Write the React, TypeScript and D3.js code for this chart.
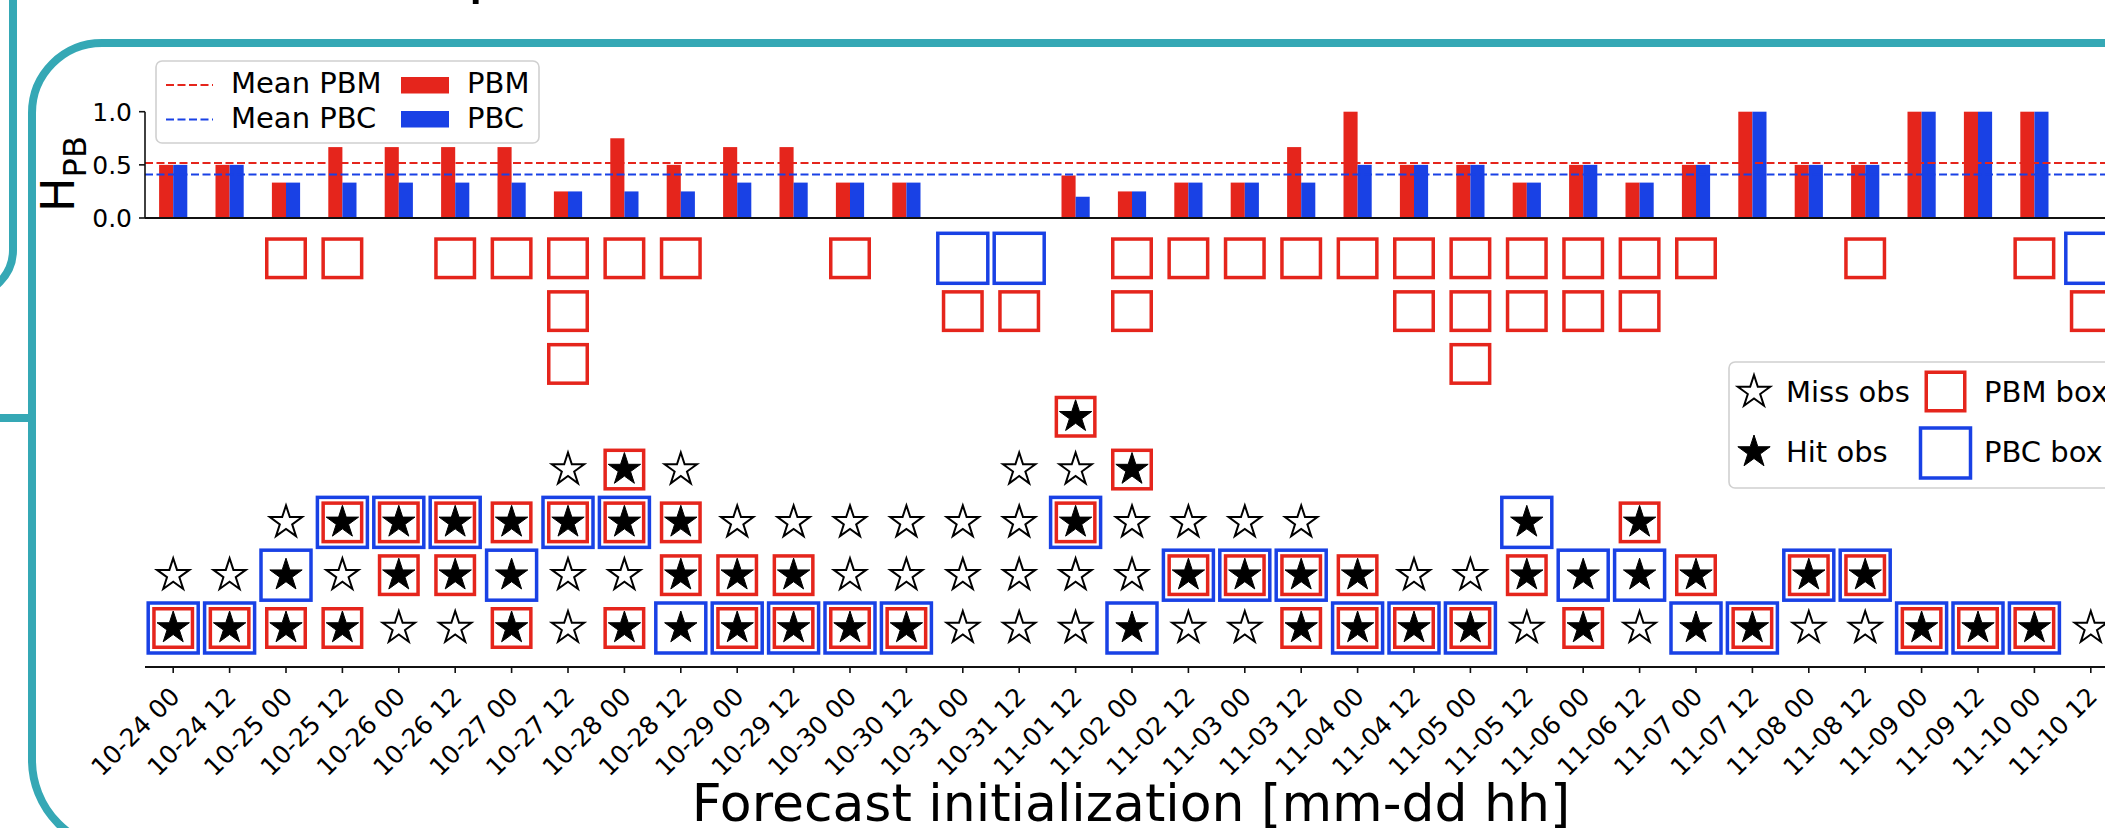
import React from "react";
import * as d3 from "d3";

// forecast initialisations (x categories)
const categories = [
  "10-24 00", "10-24 12", "10-25 00", "10-25 12", "10-26 00", "10-26 12",
  "10-27 00", "10-27 12", "10-28 00", "10-28 12", "10-29 00", "10-29 12",
  "10-30 00", "10-30 12", "10-31 00", "10-31 12", "11-01 12", "11-02 00",
  "11-02 12", "11-03 00", "11-03 12", "11-04 00", "11-04 12", "11-05 00",
  "11-05 12", "11-06 00", "11-06 12", "11-07 00", "11-07 12", "11-08 00",
  "11-08 12", "11-09 00", "11-09 12", "11-10 00", "11-10 12",
];

// H_PB per forecast
const pbmValues = [
  0.5, 0.5, 0.333, 0.667, 0.667, 0.667, 0.667, 0.25, 0.75, 0.5, 0.667, 0.667,
  0.333, 0.333, 0, 0, 0.4, 0.25, 0.333, 0.333, 0.667, 1, 0.5, 0.5,
  0.333, 0.5, 0.333, 0.5, 1, 0.5, 0.5, 1, 1, 1, 0,
];
const pbcValues = [
  0.5, 0.5, 0.333, 0.333, 0.333, 0.333, 0.333, 0.25, 0.25, 0.25, 0.333, 0.333,
  0.333, 0.333, 0, 0, 0.2, 0.25, 0.333, 0.333, 0.333, 0.5, 0.5, 0.5,
  0.333, 0.5, 0.333, 0.5, 1, 0.5, 0.5, 1, 1, 1, 0,
];

// observations, bottom row first. H = hit, M = miss, r = PBM box, b = PBC box
const obsColumns = [
  "Hrb M", "Hrb M", "Hr Hb M", "Hr M Hrb", "M Hr Hrb", "M Hr Hrb",
  "Hr Hb Hr", "M M Hrb M", "Hr M Hrb Hr", "Hb Hr Hr M", "Hrb Hr M", "Hrb Hr M",
  "Hrb M M", "Hrb M M", "M M M", "M M M M", "M M Hrb M Hr", "Hb M M Hr",
  "M Hrb M", "M Hrb M", "Hr Hrb M", "Hrb Hr", "Hrb M", "Hrb M",
  "M Hr Hb", "Hr Hb", "M Hb Hr", "Hb Hr", "Hrb", "M Hrb",
  "M Hrb", "Hrb", "Hrb", "Hrb", "M",
];

// boxes without an observation, top row first
const falseAlarms = [
  "", "", "r", "r", "", "r", "r", "r r r", "r", "r", "", "",
  "r", "", "b r", "b r", "", "r r", "r", "r", "r", "r", "r r", "r r r",
  "r r", "r r", "r r", "r", "", "", "r", "", "", "r", "b r",
];

const yTicks = [0, 0.5, 1];

const W = 2105;
const H = 828;
const teal = "#35a8b5";
const red = "#e5251c";
const blue = "#1941e5";
const font = "DejaVu Sans";

const x = d3.scaleBand<string>().domain(categories).range([145, 2119]);
const bw = x.bandwidth();
const cx = (c: string) => (x(c) as number) + bw / 2;

const yBar = d3.scaleLinear().domain([0, 1]).range([218, 111.7]);
const yRow = d3.scaleLinear().domain([0, 7]).range([628, 258.3]);
const axisY = 667;

const starR = 17;
const starPath = d3.symbol().type(d3.symbolStar).size((starR * starR) / 0.8908130915292852)()!;
const redSide = 38.5;
const blueSide = 50;
const boxStroke = 3.5;

const meanPbm = d3.mean(pbmValues) as number;
const meanPbc = d3.mean(pbcValues) as number;

function Box({ x0, y0, side, color }: { x0: number; y0: number; side: number; color: string }) {
  return (
    <rect x={x0 - side / 2} y={y0 - side / 2} width={side} height={side}
      fill="none" stroke={color} strokeWidth={boxStroke} />
  );
}

function Star({ x0, y0, hit }: { x0: number; y0: number; hit: boolean }) {
  return (
    <path d={starPath} transform={`translate(${x0},${y0})`}
      fill={hit ? "black" : "white"} stroke="black" strokeWidth={hit ? 1 : 2}
      strokeLinejoin="miter" />
  );
}

export default function App() {
  return (
    <svg width={W} height={H} style={{ position: "absolute", left: 0, top: 0, background: "white" }}
      fontFamily={font}>
      <rect width={W} height={H} fill="white" />

      {/* panel frames */}
      <g fill="none" stroke={teal} strokeWidth={8}>
        <path d="M 2220 43 H 102 A 70 70 0 0 0 32 113 V 760 A 90 90 0 0 0 122 850 H 2220" />
        <path d="M 13 -10 V 250 A 45 45 0 0 1 -32 295" />
        <path d="M -5 418 H 32" />
      </g>
      <text x={467} y={-9} fontSize={64}>p</text>

      {/* top: H_PB bars */}
      {categories.map((c, i) => (
        <g key={"bar" + c}>
          <rect x={cx(c) - bw / 4} y={yBar(pbmValues[i])} width={bw / 4}
            height={yBar(0) - yBar(pbmValues[i])} fill={red} />
          <rect x={cx(c)} y={yBar(pbcValues[i])} width={bw / 4}
            height={yBar(0) - yBar(pbcValues[i])} fill={blue} />
        </g>
      ))}
      <line x1={145} x2={2119} y1={yBar(meanPbm)} y2={yBar(meanPbm)} stroke={red}
        strokeWidth={2} strokeDasharray="8,3.5" />
      <line x1={145} x2={2119} y1={yBar(meanPbc)} y2={yBar(meanPbc)} stroke={blue}
        strokeWidth={2} strokeDasharray="8,3.5" />
      <line x1={145} x2={2119} y1={yBar(0)} y2={yBar(0)} stroke="#111" strokeWidth={1.8} />
      <line x1={145} x2={145} y1={yBar(1)} y2={yBar(0)} stroke="#111" strokeWidth={1.6} />
      {yTicks.map((t) => (
        <g key={"yt" + t}>
          <line x1={139} x2={145} y1={yBar(t)} y2={yBar(t)} stroke="#111" strokeWidth={1.6} />
          <text x={132} y={yBar(t) + 9} fontSize={25} textAnchor="end">{t.toFixed(1)}</text>
        </g>
      ))}
      <text transform="translate(74,212) rotate(-90)" fontSize={46}>
        H<tspan fontSize={32} dy={12}>PB</tspan>
      </text>

      {/* top legend */}
      <rect x={156} y={61} width={383} height={82} rx={6} fill="white" fillOpacity={0.8}
        stroke="#d0d0d0" strokeWidth={1.6} />
      <line x1={166} x2={213} y1={85} y2={85} stroke={red} strokeWidth={2} strokeDasharray="8,3.5" />
      <line x1={166} x2={213} y1={119.5} y2={119.5} stroke={blue} strokeWidth={2} strokeDasharray="8,3.5" />
      <text x={231} y={93} fontSize={29}>Mean PBM</text>
      <text x={231} y={128} fontSize={29}>Mean PBC</text>
      <rect x={401} y={77} width={48} height={16.5} fill={red} />
      <rect x={401} y={111} width={48} height={16.5} fill={blue} />
      <text x={467} y={93} fontSize={29}>PBM</text>
      <text x={467} y={128} fontSize={29}>PBC</text>

      {/* boxes without observation */}
      {categories.map((c, i) =>
        falseAlarms[i].split(" ").filter((s) => s).map((k, j) => (
          <Box key={"fa" + c + j} x0={cx(c)} y0={yRow(7 - j)}
            side={k === "b" ? blueSide : redSide} color={k === "b" ? blue : red} />
        ))
      )}

      {/* observations */}
      {categories.map((c, i) =>
        obsColumns[i].split(" ").map((tok, row) => (
          <g key={"ob" + c + row}>
            {tok.includes("b") && <Box x0={cx(c)} y0={yRow(row)} side={blueSide} color={blue} />}
            {tok.includes("r") && <Box x0={cx(c)} y0={yRow(row)} side={redSide} color={red} />}
            <Star x0={cx(c)} y0={yRow(row)} hit={tok[0] === "H"} />
          </g>
        ))
      )}

      {/* bottom axis */}
      <line x1={145} x2={2119} y1={axisY} y2={axisY} stroke="#111" strokeWidth={1.8} />
      {categories.map((c) => (
        <g key={"xt" + c}>
          <line x1={cx(c)} x2={cx(c)} y1={axisY} y2={axisY + 6} stroke="#111" strokeWidth={1.6} />
          <text transform={`translate(${cx(c) + 8},${axisY + 31}) rotate(-45)`} fontSize={25}
            textAnchor="end">{c}</text>
        </g>
      ))}
      <text x={1131} y={821} fontSize={52} textAnchor="middle">Forecast initialization [mm-dd hh]</text>

      {/* bottom legend */}
      <rect x={1729} y={362} width={420} height={126} rx={6} fill="white" fillOpacity={0.8}
        stroke="#d0d0d0" strokeWidth={1.6} />
      <Star x0={1754} y0={392} hit={false} />
      <Star x0={1754} y0={452} hit={true} />
      <text x={1786} y={402} fontSize={29}>Miss obs</text>
      <text x={1786} y={462} fontSize={29}>Hit obs</text>
      <Box x0={1945.5} y0={391.5} side={redSide} color={red} />
      <Box x0={1945.5} y0={453} side={blueSide} color={blue} />
      <text x={1984} y={402} fontSize={29}>PBM box</text>
      <text x={1984} y={462} fontSize={29}>PBC box</text>
    </svg>
  );
}
